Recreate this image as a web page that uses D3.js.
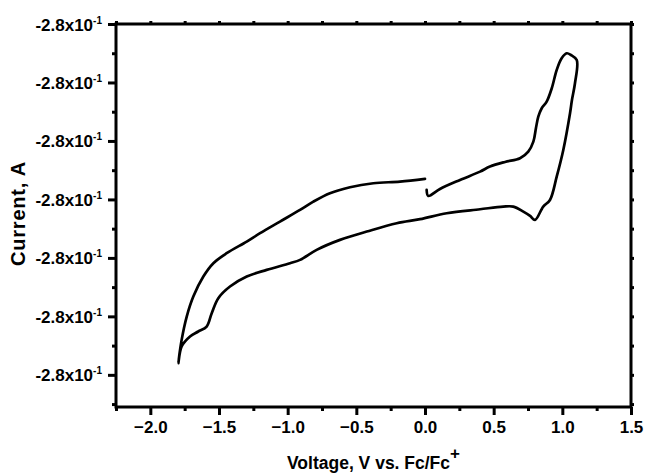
<!DOCTYPE html>
<html>
<head>
<meta charset="utf-8">
<script src="https://cdn.jsdelivr.net/npm/d3@7"></script>
<style>
  html, body { margin: 0; padding: 0; background: #fff; }
  svg { display: block; }
  text { font-family: "Liberation Sans", Arial, sans-serif; font-weight: bold; fill: #000; }
</style>
</head>
<body>
<svg id="chart" width="649" height="473"></svg>
<script>
// Cyclic voltammogram: potential (V vs. Fc/Fc+) in sweep order
const voltage = [
  0.012, 0.024, 0.109, 0.255, 0.401, 0.473, 0.583, 0.692, 0.752, 0.789,
  0.808, 0.825, 0.850, 0.886, 0.923, 0.959, 0.995, 1.032, 1.063, 1.105,
  1.092, 1.070, 1.056, 1.007, 0.959, 0.910, 0.861, 0.801, 0.765, 0.716,
  0.643, 0.570, 0.401, 0.158, -0.036, -0.206, -0.424, -0.619, -0.789, -0.910,
  -0.983, -1.153, -1.298, -1.420, -1.505, -1.553, -1.590, -1.651, -1.711, -1.772,
  -1.796, -1.772, -1.735, -1.687, -1.614, -1.541, -1.444, -1.298, -1.201, -1.056,
  -0.910, -0.813, -0.692, -0.546, -0.376, -0.182, 0.000
];
// Current, in steps of the current axis grid
const current = [
  3.162, 3.060, 3.179, 3.333, 3.475, 3.561, 3.641, 3.704, 3.817, 3.988,
  4.222, 4.415, 4.559, 4.672, 4.901, 5.214, 5.414, 5.499, 5.470, 5.385,
  4.986, 4.701, 4.474, 3.846, 3.390, 2.991, 2.877, 2.650, 2.718, 2.791,
  2.877, 2.877, 2.832, 2.764, 2.662, 2.593, 2.450, 2.308, 2.137, 1.966,
  1.909, 1.795, 1.681, 1.510, 1.311, 1.054, 0.826, 0.741, 0.655, 0.484,
  0.200, 0.598, 0.997, 1.339, 1.681, 1.909, 2.080, 2.279, 2.422, 2.621,
  2.821, 2.962, 3.106, 3.209, 3.277, 3.304, 3.350
];

const xTicks = [-2.0, -1.5, -1.0, -0.5, 0.0, 0.5, 1.0, 1.5];
const xMinorTicks = [-2.25, -1.75, -1.25, -0.75, -0.25, 0.25, 0.75, 1.25];
const yTicks = [0, 1, 2, 3, 4, 5, 6];
const yMinorTicks = [-0.5, 0.5, 1.5, 2.5, 3.5, 4.5, 5.5];
const yTickMantissa = ["-2.8x10", "-2.8x10", "-2.8x10", "-2.8x10", "-2.8x10", "-2.8x10", "-2.8x10"];
const yTickExponent = ["-1", "-1", "-1", "-1", "-1", "-1", "-1"];

const svg = d3.select("#chart");
const margin = { left: 116, top: 24, right: 18, bottom: 66 };
const W = 649 - margin.left - margin.right;
const H = 473 - margin.top - margin.bottom;

const x = d3.scaleLinear().domain([-2.25, 1.5]).range([0, W]);
const y = d3.scaleLinear().domain([-0.55, 6]).range([H, 0]);

const g = svg.append("g").attr("transform", `translate(${margin.left},${margin.top})`);

// Axes with major and minor ticks
const axisStroke = 3;
function styleAxis(sel) {
  sel.select(".domain").remove();
  sel.selectAll(".tick line").attr("stroke", "#000").attr("stroke-width", axisStroke);
}

g.append("g").attr("transform", `translate(0,${H})`)
  .call(d3.axisBottom(x).tickValues(xTicks).tickSize(8).tickPadding(6).tickFormat(d3.format(".1f")))
  .call(styleAxis)
  .call(s => s.selectAll(".tick text").attr("font-size", 17).style("font-family", "'Liberation Sans', Arial, sans-serif").style("font-weight", "bold"));
g.append("g").attr("transform", `translate(0,${H})`)
  .call(d3.axisBottom(x).tickValues(xMinorTicks).tickSize(4).tickFormat(""))
  .call(styleAxis);

g.append("g")
  .call(d3.axisLeft(y).tickValues(yTicks).tickSize(8).tickFormat(""))
  .call(styleAxis);
g.append("g")
  .call(d3.axisLeft(y).tickValues(yMinorTicks).tickSize(4).tickFormat(""))
  .call(styleAxis);

// Small outside ticks on the right and top edges
g.append("g").attr("transform", `translate(${W},0)`)
  .call(d3.axisRight(y).tickValues(yTicks.concat(yMinorTicks)).tickSize(3).tickFormat(""))
  .call(styleAxis);
g.append("g")
  .call(d3.axisTop(x).tickValues(xTicks.concat(xMinorTicks)).tickSize(3).tickFormat(""))
  .call(styleAxis);

// Y tick labels with superscript exponent
yTicks.forEach((t, i) => {
  const lbl = g.append("text")
    .attr("x", -14)
    .attr("y", y(t) + 6.5)
    .attr("text-anchor", "end")
    .attr("font-size", 17);
  lbl.append("tspan").text(yTickMantissa[i]);
  lbl.append("tspan").attr("dy", -7).attr("font-size", 10).text(yTickExponent[i]);
});

// Frame
g.append("rect")
  .attr("x", 0).attr("y", 0).attr("width", W).attr("height", H)
  .attr("fill", "none").attr("stroke", "#000").attr("stroke-width", axisStroke);

// Voltammogram trace
const pts = voltage.map((v, i) => [v, current[i]]);
const line = d3.line()
  .x(d => x(d[0]))
  .y(d => y(d[1]))
  .curve(d3.curveCatmullRom.alpha(0.5));
g.append("path")
  .datum(pts)
  .attr("d", line)
  .attr("fill", "none")
  .attr("stroke", "#000")
  .attr("stroke-width", 2.7)
  .attr("stroke-linejoin", "round")
  .attr("stroke-linecap", "round");

// Axis titles
const xt = svg.append("text")
  .attr("x", margin.left + W / 2)
  .attr("y", 469)
  .attr("text-anchor", "middle")
  .attr("font-size", 17.5);
xt.append("tspan").text("Voltage, V vs. Fc/Fc");
xt.append("tspan").attr("dy", -10).attr("font-size", 17).text("+");

svg.append("text")
  .attr("transform", `translate(25,${margin.top + H / 2 - 2}) rotate(-90)`)
  .attr("text-anchor", "middle")
  .attr("font-size", 20)
  .attr("letter-spacing", 0.8)
  .text("Current, A");
</script>
</body>
</html>
